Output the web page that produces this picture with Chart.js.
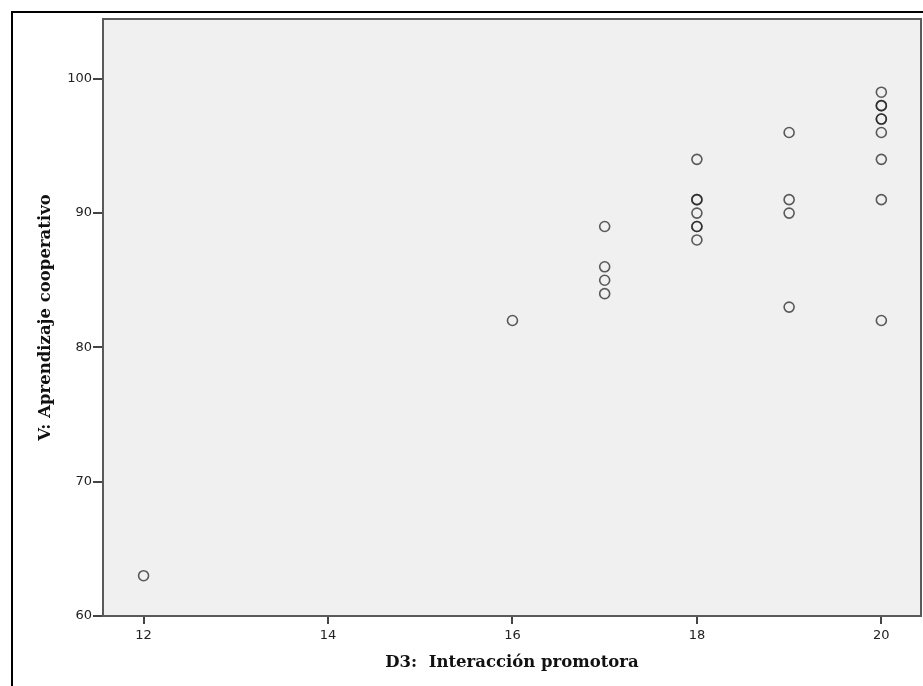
<!DOCTYPE html>
<html>
<head>
<meta charset="utf-8">
<script src="https://cdn.jsdelivr.net/npm/chart.js@4"></script>
<style>
  html, body { margin: 0; padding: 0; background: #fff; }
  #wrap { width: 923px; height: 686px; }
</style>
</head>
<body>
<div id="wrap"><canvas id="scatter"></canvas></div>
<script>
// D3 score (x) and V score (y) for each case; repeated pairs are real duplicates
const d3Scores = [12, 16, 17, 17, 17, 17, 18, 18, 18, 18, 18, 18, 18, 19, 19, 19, 19, 20, 20, 20, 20, 20, 20, 20, 20, 20];
const vScores  = [63, 82, 89, 86, 85, 84, 94, 91, 91, 90, 89, 89, 88, 96, 91, 90, 83, 99, 98, 98, 97, 97, 96, 94, 91, 82];
const xTicks = [12, 14, 16, 18, 20];
const yTicks = [60, 70, 80, 90, 100];

const points = d3Scores.map((x, i) => ({ x, y: vScores[i] }));

// grey plot background, frame and the outer black border
const frame = {
  id: 'frame',
  beforeDatasetsDraw(chart) {
    const { ctx, chartArea: a } = chart;
    ctx.save();
    ctx.fillStyle = '#f0f0f0';
    ctx.fillRect(a.left, a.top, a.right - a.left, a.bottom - a.top);
    ctx.restore();
  },
  afterDraw(chart) {
    const { ctx, chartArea: a, width, height } = chart;
    ctx.save();
    ctx.strokeStyle = '#5a5a5a';
    ctx.lineWidth = 2;
    ctx.strokeRect(a.left, a.top, a.right - a.left, a.bottom - a.top);
    ctx.strokeStyle = '#000';
    ctx.lineWidth = 2;
    ctx.beginPath();
    ctx.moveTo(12, height);
    ctx.lineTo(12, 12);
    ctx.lineTo(width, 12);
    ctx.stroke();
    ctx.restore();
  },
};

new Chart(document.getElementById('scatter'), {
  type: 'scatter',
  data: {
    datasets: [{
      data: points,
      borderColor: 'rgba(30, 30, 30, 0.72)',
      backgroundColor: 'transparent',
      borderWidth: 1.6,
      pointRadius: 5,
    }],
  },
  options: {
    responsive: true,
    maintainAspectRatio: false,
    animation: false,
    layout: { autoPadding: false, padding: { top: 19, right: 2, left: 0, bottom: 0 } },
    plugins: {
      legend: { display: false },
      tooltip: { enabled: false },
    },
    scales: {
      x: {
        type: 'linear',
        min: 11.56,
        max: 20.43,
        afterBuildTicks: (axis) => { axis.ticks = xTicks.map((v) => ({ value: v })); },
        afterFit: (axis) => {
          axis.height = 70;
          axis.paddingLeft = 0;
          axis.paddingRight = 0;
        },
        grid: { drawOnChartArea: false, drawTicks: true, tickLength: 8, color: '#444', lineWidth: 2 },
        border: { display: false },
        ticks: { color: '#222', font: { family: 'DejaVu Sans', size: 13 }, padding: 4 },
        title: {
          display: true,
          text: 'D3:  Interacción promotora',
          color: '#111',
          font: { family: 'DejaVu Serif', size: 16.5, weight: 'bold' },
          padding: { top: 0, bottom: 13 },
        },
      },
      y: {
        type: 'linear',
        min: 60,
        max: 104.45,
        afterBuildTicks: (axis) => { axis.ticks = yTicks.map((v) => ({ value: v })); },
        afterFit: (axis) => {
          axis.width = 103;
          axis.paddingTop = 0;
          axis.paddingBottom = 0;
        },
        grid: { drawOnChartArea: false, drawTicks: true, tickLength: 10, color: '#444', lineWidth: 2 },
        border: { display: false },
        ticks: { color: '#222', font: { family: 'DejaVu Sans', size: 13 }, padding: 1 },
        title: {
          display: true,
          text: 'V: Aprendizaje cooperativo',
          color: '#111',
          font: { family: 'DejaVu Serif', size: 16.5, weight: 'bold' },
          padding: { top: 36, bottom: 0 },
        },
      },
    },
  },
  plugins: [frame],
});
</script>
</body>
</html>
